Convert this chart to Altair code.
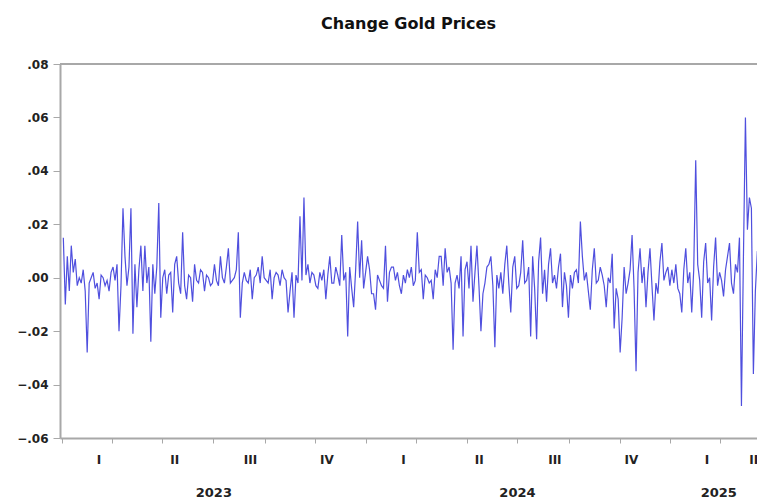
import altair as alt
import pandas as pd

title_text = "Change Gold Prices"
first_day = "2023-01-02"
last_day = "2025-04-25"

# daily change of gold price (in thousandths)
chg_permille = [
    15, -10, 8, -5, 12, 2, 7, -3, 0, -2,
    3, -5, -28, -2, 0, 2, -4, -2, -8, 1,
    0, -3, -1, -5, 2, 4, -1, 5, -20, -3,
    26, 8, -3, 4, 26, -21, 5, -11, 3, 12,
    -5, 12, -2, 4, -24, 5, -6, 4, 28, -15,
    0, 3, -6, 1, 2, -13, 5, 8, -2, -6,
    17, -3, -8, 1, 0, -9, 5, -1, -2, 3,
    2, -5, 1, 0, -3, -2, 5, -1, -3, 8,
    0, -2, 4, 11, -2, -1, 0, 3, 17, -15,
    -2, 2, -1, -2, 3, -8, 0, 1, 4, -2,
    8, 0, -1, -2, 3, -8, 0, 2, 1, -3,
    3, 0, -1, -13, -5, 2, -15, 1, -2, 23,
    -1, 30, 1, 5, -2, 2, 1, -3, -4, 2,
    -1, 3, -8, 1, 8, -2, -2, 4, 1, -3,
    16, -1, 2, -22, 4, -4, -11, 3, 21, 0,
    14, -4, 2, 8, 3, -6, -6, -12, 1, -1,
    -3, -4, 12, -9, 2, 4, 4, -1, 2, -3,
    -6, 1, -2, 3, 0, 4, -3, -1, 17, 2,
    3, -8, 1, 0, -2, -1, -8, 3, 0, 8,
    8, -3, 11, 2, 4, -2, -27, -2, 1, -4,
    8, -22, 3, 6, -4, 12, -9, 2, 12, -3,
    -20, -6, -2, 4, 5, 8, -3, -26, 1, -4,
    2, -6, 5, 12, -2, -13, 4, 8, -4, -3,
    2, 14, -2, -1, 4, -22, 8, -4, -23, 6,
    15, -6, 3, -9, 5, 11, -2, 1, -4, 4,
    9, -11, 2, -3, -15, 1, -4, 2, 3, -2,
    21, 8, -1, 2, -5, -12, 3, 11, -2, -1,
    4, 1, -3, -11, 0, -2, 9, -19, -4, -8,
    -28, -15, 4, -6, -2, 3, 16, -4, -35, 2,
    11, -2, 4, -11, 2, 11, -3, -16, -2, -6,
    6, 13, -1, 2, 4, -3, 3, -2, 5, -4,
    -6, -13, 3, 11, -2, 2, -13, 3, 44, 5,
    -1, -15, 6, 13, -2, 0, -16, 4, 15, -3,
    2, -1, -7, 3, 8, 13, -2, -6, 5, 2,
    15, -48, 8, 60, 18, 30, 26, -36, -5, 10,
    -12, 20, -8, 12,
]

y_ticks = [-0.06, -0.04, -0.02, 0.0, 0.02, 0.04, 0.06, 0.08]
x_start = alt.DateTime(year=2022, month=12, date=29)
x_end = alt.DateTime(year=2025, month=4, date=15)

month_ticks = [alt.DateTime(year=y, month=m, date=1)
               for y in (2023, 2024, 2025) for m in range(1, 13)
               if not (y == 2025 and m > 4)]

quarter_labels = ["I", "II", "III", "IV", "I", "II", "III", "IV", "I", "II"]
quarter_mid = ["2023-02-14", "2023-05-16", "2023-08-15", "2023-11-15",
               "2024-02-15", "2024-05-16", "2024-08-15", "2024-11-15",
               "2025-02-14", "2025-04-11"]
year_labels = ["2023", "2024", "2025"]
year_mid = ["2023-07-02", "2024-07-01", "2025-02-28"]

W, H = 697, 374

df = pd.DataFrame({
    "date": pd.date_range(first_day, last_day, periods=len(chg_permille)),
    "chg": [v / 1000 for v in chg_permille],
})
q_df = pd.DataFrame({"date": pd.to_datetime(quarter_mid), "label": quarter_labels})
y_df = pd.DataFrame({"date": pd.to_datetime(year_mid), "label": year_labels})
top_df = pd.DataFrame({"chg": [y_ticks[-1]]})

x_enc = alt.X(
    "date:T",
    title=None,
    scale=alt.Scale(domain=[x_start, x_end], nice=False),
    axis=alt.Axis(values=month_ticks, labels=False, tickSize=5, grid=False,
                  domainColor="#a8a8a8", tickColor="#a8a8a8", domainWidth=2),
)
y_enc = alt.Y(
    "chg:Q",
    title=None,
    scale=alt.Scale(domain=[y_ticks[0], y_ticks[-1]], nice=False, zero=False),
    axis=alt.Axis(values=y_ticks,
                  labelExpr="replace(format(datum.value, '.2f'), '0.', '.')",
                  grid=False, tickSize=7, labelPadding=5,
                  domainColor="#a8a8a8", tickColor="#a8a8a8", domainWidth=2,
                  labelFont="DejaVu Sans", labelFontSize=12, labelFontWeight="bold",
                  labelColor="#222222"),
)

line = alt.Chart(df).mark_line(color="#3030d8", strokeWidth=1.2, opacity=0.85,
                               clip=True).encode(x=x_enc, y=y_enc)
top_rule = alt.Chart(top_df).mark_rule(color="#a8a8a8", strokeWidth=2).encode(
    y=alt.Y("chg:Q")
)
q_text = alt.Chart(q_df).mark_text(
    font="DejaVu Sans", fontSize=12, fontWeight="bold", color="#222222", baseline="middle"
).encode(x=alt.X("date:T"), y=alt.value(H + 22), text="label:N")
yr_text = alt.Chart(y_df).mark_text(
    font="DejaVu Sans", fontSize=13, fontWeight="bold", color="#222222", baseline="middle"
).encode(x=alt.X("date:T"), y=alt.value(H + 55), text="label:N")

chart = alt.layer(line, top_rule, q_text, yr_text).properties(
    width=W,
    height=H,
    title=alt.TitleParams(title_text, font="DejaVu Sans", fontSize=16,
                          fontWeight="bold", color="#111111", offset=26,
                          anchor="middle"),
    autosize=alt.AutoSizeParams(type="none"),
    padding={"left": 60, "top": 64, "right": 0, "bottom": 66},
    background="white",
).configure_view(stroke=None)

chart.save("out.html", embed_options={"renderer": "svg", "actions": False})
